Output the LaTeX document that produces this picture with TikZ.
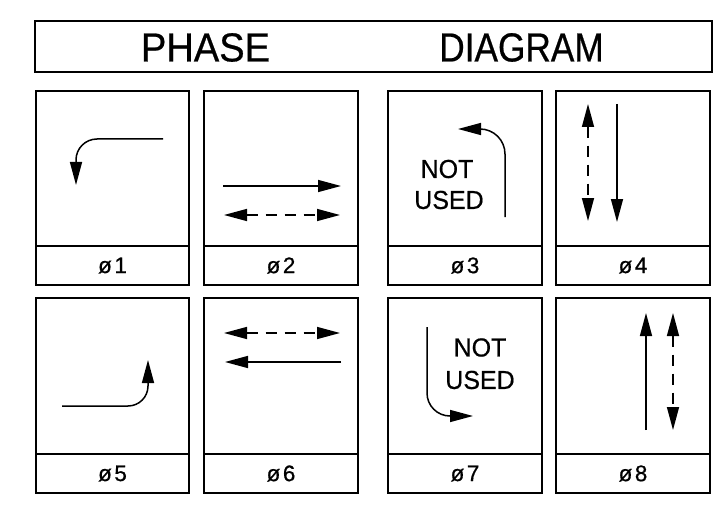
\documentclass[tikz,border=0pt]{standalone}
\usepackage{fontspec}
\usepackage{graphicx}
\setmainfont{Liberation Sans}
\newfontfamily\boldish[FakeBold=0.6]{Liberation Sans}
\usetikzlibrary{arrows.meta}
\begin{document}
\begin{tikzpicture}[x=1pt,y=-1pt,
  frame/.style={line width=1.7pt},
  tipA/.tip={Triangle[length=23pt,width=12pt]},
  arr/.style={line width=1.5pt,-tipA},
  darr/.style={line width=1.5pt,tipA-tipA,dash pattern=on 11pt off 8pt},
  titletxt/.style={inner sep=0pt,font=\boldish\fontsize{40.5}{40.5}\selectfont},
  lbl/.style={inner sep=0pt,font=\boldish\fontsize{22.5}{22.5}\selectfont},
  nu/.style={inner sep=0pt,font=\boldish\fontsize{26}{26}\selectfont}]
\useasboundingbox (0,0) rectangle (724,511);
% title
\draw[frame] (35,21) rectangle (712,72);
\node[titletxt] (t1) at (205.5,47.5) {\scalebox{0.94}[1]{PHASE}};
\node[titletxt] (t2) at (521.5,47.5) {\scalebox{0.87}[1]{DIAGRAM}};
% panels
\foreach \xa/\xb/\ya/\ym/\yb in {36/189/91/246/285, 204/358/91/246/285, 388/542/91/246/285, 556/710/91/246/285,
  36/189/298/454/493, 204/358/298/454/493, 388/542/298/454/493, 556/710/298/454/493}{
  \draw[frame] (\xa,\ya) rectangle (\xb,\yb);
  \draw[frame] (\xa,\ym) -- (\xb,\ym);
}
% labels
\node[lbl] (l1) at (112.5,265.5) {ø\hspace{2.5pt}1};
\node[lbl] (l2) at (281,265.5) {ø\hspace{2.5pt}2};
\node[lbl] (l3) at (465,265.5) {ø\hspace{2.5pt}3};
\node[lbl] (l4) at (633,265.5) {ø\hspace{2.5pt}4};
\node[lbl] (l5) at (112.5,473.5) {ø\hspace{2.5pt}5};
\node[lbl] (l6) at (281,473.5) {ø\hspace{2.5pt}6};
\node[lbl] (l7) at (465,473.5) {ø\hspace{2.5pt}7};
\node[lbl] (l8) at (633,473.5) {ø\hspace{2.5pt}8};
% NOT USED
\node[nu] (n3a) at (447,169) {\scalebox{0.96}[1]{NOT}};
\node[nu] (n3b) at (449,200) {\scalebox{0.96}[1]{USED}};
\node[nu] (n7a) at (480,347.5) {\scalebox{0.96}[1]{NOT}};
\node[nu] (n7b) at (480,380) {\scalebox{0.96}[1]{USED}};
% coordinates
\coordinate (p1s) at (163,139); \coordinate (p1e) at (76,185);
\coordinate (p2as) at (223,186); \coordinate (p2ae) at (341,186);
\coordinate (p2bs) at (224,215); \coordinate (p2be) at (340,215);
\coordinate (p3s) at (505,217); \coordinate (p3e) at (458,129);
\coordinate (p4as) at (588,104); \coordinate (p4ae) at (588,221);
\coordinate (p4bs) at (617,104); \coordinate (p4be) at (617,222);
\coordinate (p5s) at (62,406); \coordinate (p5e) at (148,360);
\coordinate (p6as) at (224,333); \coordinate (p6ae) at (340,333);
\coordinate (p6bs) at (341,362); \coordinate (p6be) at (225,362);
\coordinate (p7s) at (427,327); \coordinate (p7e) at (473,416);
\coordinate (p8as) at (646,430); \coordinate (p8ae) at (646,313);
\coordinate (p8bs) at (673,313); \coordinate (p8be) at (673,430);
% arrows
\draw[arr,rounded corners=21pt] (p1s) -| (p1e);
\draw[arr] (p2as) -- (p2ae);
\draw[darr] (p2bs) -- (p2be);
\draw[arr,rounded corners=25pt] (p3s) |- (p3e);
\draw[darr] (p4as) -- (p4ae);
\draw[arr] (p4bs) -- (p4be);
\draw[arr,rounded corners=20pt] (p5s) -| (p5e);
\draw[darr] (p6as) -- (p6ae);
\draw[arr] (p6bs) -- (p6be);
\draw[arr,rounded corners=23pt] (p7s) |- (p7e);
\draw[arr] (p8as) -- (p8ae);
\draw[darr] (p8bs) -- (p8be);
\end{tikzpicture}
\end{document}
